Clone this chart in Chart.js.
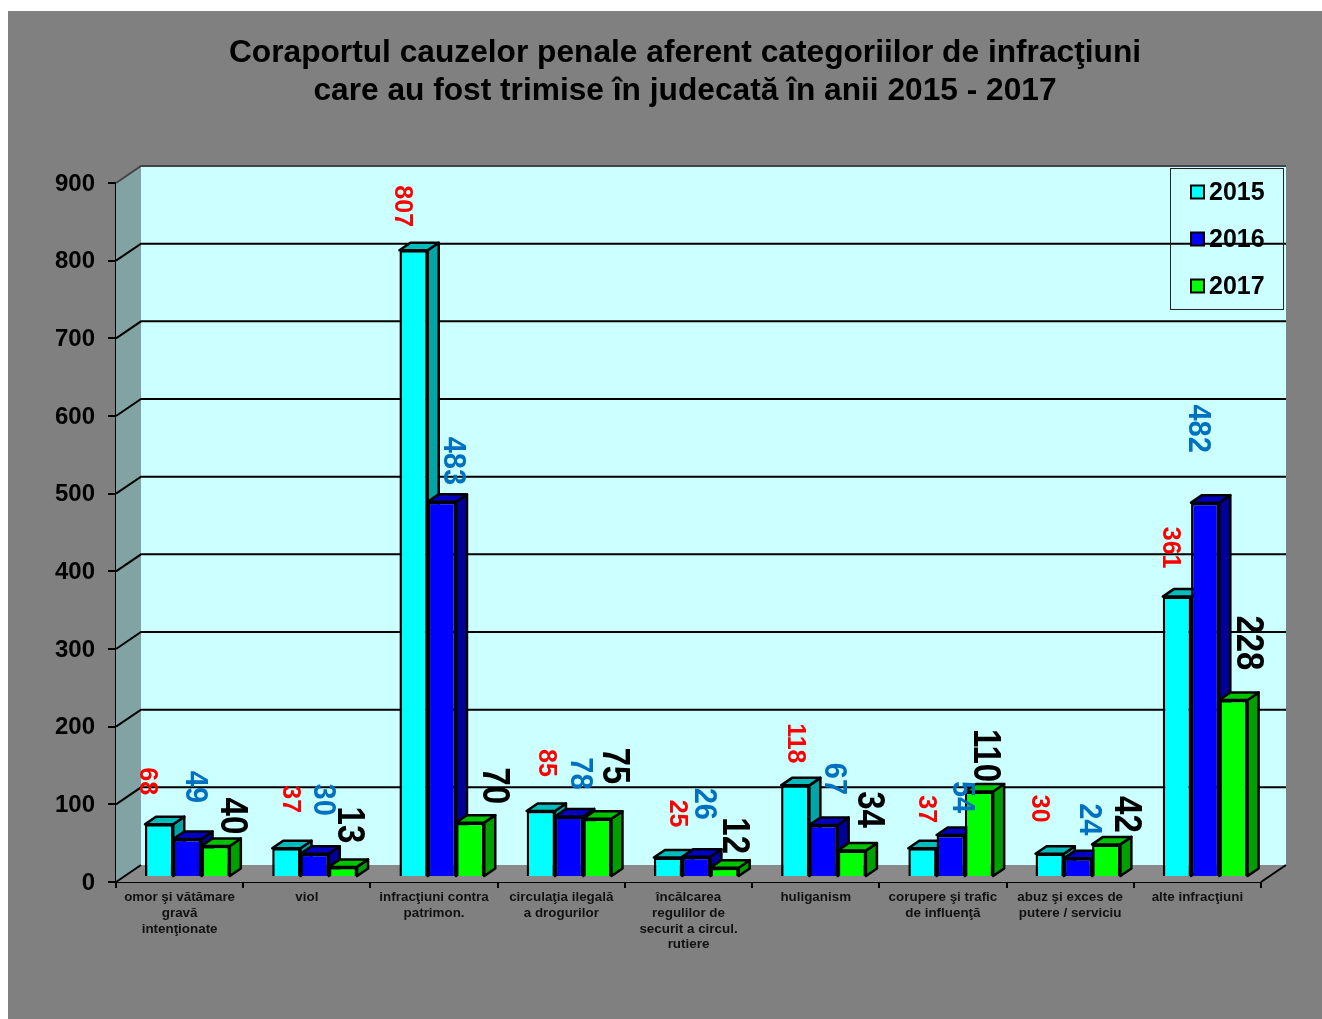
<!DOCTYPE html>
<html>
<head>
<meta charset="utf-8">
<title>Coraportul cauzelor penale</title>
<style>
    html, body { margin: 0; padding: 0; background: #fff; overflow: hidden; }
    canvas { display: block; }
</style>
<script src="https://cdn.jsdelivr.net/npm/chart.js@4/dist/chart.umd.min.js"></script>
</head>
<body>
<canvas id="chart" width="1322" height="1019"></canvas>
<script>
const categories = [
    ["omor şi vătămare", "gravă", "intenţionate"],
    "viol",
    ["infracţiuni contra", "patrimon."],
    ["circulaţia ilegală", "a drogurilor"],
    ["încălcarea", "regulilor de", "securit a circul.", "rutiere"],
    "huliganism",
    ["corupere şi trafic", "de influenţă"],
    ["abuz şi exces de", "putere / serviciu"],
    "alte infracţiuni"
];
const values2015 = [68, 37, 807, 85, 25, 118, 37, 30, 361];
const values2016 = [49, 30, 483, 78, 26, 67, 54, 24, 482];
const values2017 = [40, 13, 70, 75, 12, 34, 110, 42, 228];
const yTicks = [0, 100, 200, 300, 400, 500, 600, 700, 800, 900];
const titleLines = [
    "Coraportul cauzelor penale aferent categoriilor de infracţiuni",
    "care au fost trimise în judecată în anii 2015 - 2017"
];

// the value labels were moved by hand in the original, so each one has its own nudge from its bar top
const labelNudges = [
    [[-4, -48], [12, -54], [-3, -49], [13, -53], [17, -49], [8, -47], [12, -44], [-3, -50], [1, -54]],
    [[15, -57], [16, -59], [18, -46], [18, -48], [15, -58], [18, -51], [19, -43], [18, -44], [0, -79]],
    [[24, -35], [14, -47], [31, -42], [24, -58], [17, -37], [25, -46], [14, -41], [27, -35], [22, -62]]
];
const labelStyles = [
    { color: "#ff0000", size: 25, stretch: 1.06 },
    { color: "#0070c0", size: 29, stretch: 1.06 },
    { color: "#000000", size: 33, stretch: 1.18 }
];

const FONT = '"Liberation Sans", Arial, sans-serif';
const DEPTH_X = 25;
const DEPTH_Y = -17;
// bars stand inside the depth of the box, not on its front edge
const BAR_SHIFT_X = 7.8;
const BAR_SHIFT_Y = -5;
const BAR_DEPTH_X = 11;
const BAR_DEPTH_Y = -7.5;

function polygon(ctx, points, fill, stroke, lineWidth) {
    ctx.beginPath();
    points.forEach(function (p, i) {
        if (i === 0) {
            ctx.moveTo(p[0], p[1]);
        } else {
            ctx.lineTo(p[0], p[1]);
        }
    });
    ctx.closePath();
    if (fill) {
        ctx.fillStyle = fill;
        ctx.fill();
    }
    if (stroke) {
        ctx.strokeStyle = stroke;
        ctx.lineWidth = lineWidth || 1;
        ctx.lineJoin = "round";
        ctx.stroke();
    }
}

const boxPlugin = {
    id: "box3d",
    afterLayout: function (chart) {
        // title is centred a little right of the canvas middle
        chart.titleBlock.left = 100;
        chart.titleBlock.right = 1270;
    },
    beforeDraw: function (chart) {
        const ctx = chart.ctx;
        ctx.save();
        ctx.fillStyle = "#808080";
        ctx.fillRect(8, 11, chart.width - 8, chart.height - 11);
        ctx.restore();
    },
    beforeDatasetsDraw: function (chart) {
        const ctx = chart.ctx;
        const a = chart.chartArea;
        const y = chart.scales.y;
        const dx = DEPTH_X;
        const dy = DEPTH_Y;
        ctx.save();
        polygon(ctx, [[a.left + dx, a.top + dy], [a.right + dx, a.top + dy], [a.right + dx, a.bottom + dy], [a.left + dx, a.bottom + dy]], "#ccffff");
        polygon(ctx, [[a.left, a.top], [a.left + dx, a.top + dy], [a.left + dx, a.bottom + dy], [a.left, a.bottom]], "#82a3a3");
        polygon(ctx, [[a.left, a.bottom], [a.left + dx, a.bottom + dy], [a.right + dx, a.bottom + dy], [a.right, a.bottom]], "#8a8a8a");

        ctx.lineWidth = 2;
        yTicks.forEach(function (v) {
            const py = y.getPixelForValue(v);
            ctx.strokeStyle = v === 900 ? "#444444" : "#000000";
            ctx.beginPath();
            ctx.moveTo(a.left, py);
            ctx.lineTo(a.left + dx, py + dy);
            if (v > 0) {
                ctx.lineTo(a.right + dx, py + dy);
            }
            ctx.stroke();
        });
        ctx.strokeStyle = "#000000";
        ctx.beginPath();
        ctx.moveTo(a.right, a.bottom);
        ctx.lineTo(a.right + dx, a.bottom + dy);
        ctx.stroke();
        ctx.restore();
    },
    beforeDatasetDraw: function () {
        // painted in afterDatasetsDraw instead, left bar first so the next bar hides its side
        return false;
    },
    afterDatasetsDraw: function (chart) {
        const ctx = chart.ctx;
        ctx.save();

        chart.data.datasets.forEach(function (ds, d) {
            const meta = chart.getDatasetMeta(d);
            ctx.save();
            ctx.translate(BAR_SHIFT_X, BAR_SHIFT_Y);
            meta.data.forEach(function (bar) {
                const left = bar.x - bar.width / 2;
                const right = bar.x + bar.width / 2;
                const dx = BAR_DEPTH_X;
                const dy = BAR_DEPTH_Y;
                polygon(ctx, [[right, bar.y], [right + dx, bar.y + dy], [right + dx, bar.base + dy], [right, bar.base]], ds.sideColor, "#000000", 2.5);
                polygon(ctx, [[left, bar.y], [left + dx, bar.y + dy], [right + dx, bar.y + dy], [right, bar.y]], ds.topColor, "#000000", 2.5);
            });
            meta.controller.draw();
            ctx.restore();
        });

        // rotated value labels
        chart.data.datasets.forEach(function (ds, d) {
            const style = labelStyles[d];
            chart.getDatasetMeta(d).data.forEach(function (bar, i) {
                const nudge = labelNudges[d][i];
                ctx.save();
                ctx.translate(bar.x + nudge[0], bar.y + nudge[1]);
                ctx.rotate(Math.PI / 2);
                ctx.scale(1, style.stretch);
                ctx.font = "bold " + style.size + "px " + FONT;
                ctx.fillStyle = style.color;
                ctx.textAlign = "center";
                ctx.textBaseline = "middle";
                ctx.fillText(String(ds.data[i]), 0, 0);
                ctx.restore();
            });
        });

        // legend box sits on the back wall, gridline runs through it
        ctx.strokeStyle = "#222222";
        ctx.lineWidth = 1;
        ctx.strokeRect(1170.5, 168.5, 113, 141);
        chart.data.datasets.forEach(function (ds, d) {
            const cy = 192 + d * 47;
            ctx.fillStyle = ds.backgroundColor;
            ctx.strokeStyle = "#000000";
            ctx.lineWidth = 2;
            ctx.fillRect(1191, cy - 6.5, 13, 13);
            ctx.strokeRect(1191, cy - 6.5, 13, 13);
            ctx.font = "bold 25px " + FONT;
            ctx.fillStyle = "#000000";
            ctx.textAlign = "left";
            ctx.textBaseline = "middle";
            ctx.fillText(ds.label, 1209, cy + 1);
        });
        ctx.restore();
    }
};

new Chart(document.getElementById("chart"), {
    type: "bar",
    plugins: [boxPlugin],
    data: {
        labels: categories,
        datasets: [
            { label: "2015", data: values2015, backgroundColor: "#00ffff", topColor: "#00bcbc", sideColor: "#00a5a5" },
            { label: "2016", data: values2016, backgroundColor: "#0000ff", topColor: "#0000c4", sideColor: "#000099" },
            { label: "2017", data: values2017, backgroundColor: "#00ff00", topColor: "#00c400", sideColor: "#009f00" }
        ]
    },
    options: {
        responsive: false,
        animation: false,
        events: [],
        layout: { padding: { left: 0, right: 61, top: 0, bottom: 0 } },
        datasets: {
            bar: {
                clip: false,
                borderColor: "#000000",
                borderWidth: 2.5,
                categoryPercentage: 2 / 3,
                barPercentage: 1
            }
        },
        plugins: {
            legend: { display: false },
            tooltip: { enabled: false },
            title: {
                display: true,
                text: titleLines,
                color: "#000000",
                font: { family: FONT, size: 31.7, weight: "bold", lineHeight: 38 / 31.7 },
                padding: { top: 34, bottom: 73 }
            }
        },
        scales: {
            x: {
                afterFit: function (scale) {
                    scale.height = 137;
                },
                border: { color: "#000000", width: 2 },
                grid: { drawOnChartArea: false, color: "#000000", lineWidth: 2, tickLength: 6 },
                ticks: {
                    color: "#111111",
                    font: { family: FONT, size: 13.4, weight: "bold", lineHeight: 15.6 / 13.4 },
                    maxRotation: 0,
                    autoSkip: false,
                    padding: 2
                }
            },
            y: {
                min: 0,
                max: 900,
                afterFit: function (scale) {
                    scale.width = 116;
                },
                border: { color: "#000000", width: 2 },
                grid: { drawOnChartArea: false, color: "#000000", lineWidth: 2, tickLength: 8 },
                ticks: {
                    stepSize: 100,
                    color: "#000000",
                    font: { family: FONT, size: 24, weight: "bold" },
                    labelOffset: 1,
                    padding: 13
                }
            }
        }
    }
});
</script>
</body>
</html>
